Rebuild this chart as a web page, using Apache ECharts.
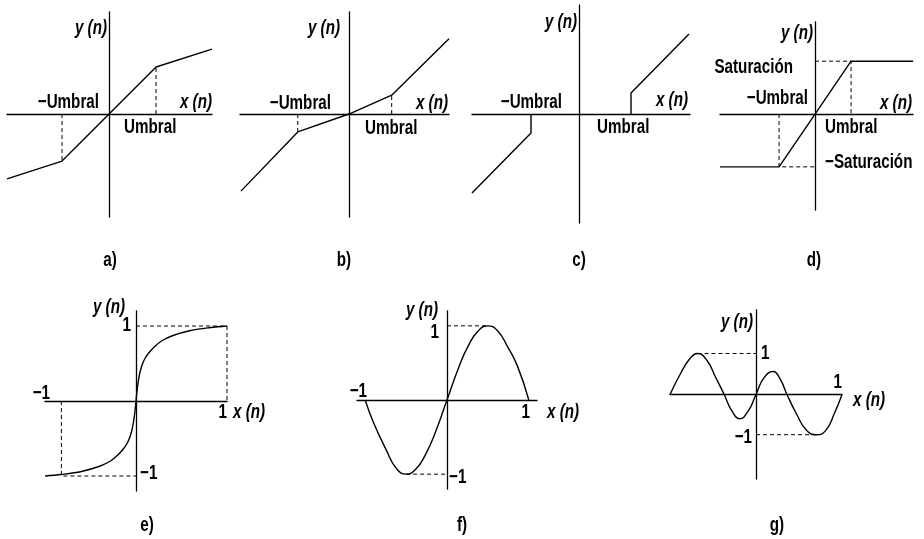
<!DOCTYPE html>
<html>
<head>
<meta charset="utf-8">
<script src="https://cdn.jsdelivr.net/npm/echarts@6/dist/echarts.min.js"></script>
<style>
  html, body { margin: 0; padding: 0; background: #fff; }
  #main { width: 924px; height: 539px; }
</style>
</head>
<body>
<div id="main"></div>
<script>
// a) umbral con pendiente reducida fuera del umbral (x, y en unidades de Umbral)
var curveA = [[-2.17, -1.38], [-1, -1], [0, 0], [1, 1], [2.19, 1.38]];
var dashA1 = [[1, 0], [1, 1]];
var dashA2 = [[-1, 0], [-1, -1]];

// b) pendiente reducida dentro del umbral
var curveB = [[-2.3, -1.64], [-1.09, -0.38], [0, 0], [0.91, 0.4], [2.13, 1.6]];
var dashB1 = [[0.91, 0], [0.91, 0.4]];
var dashB2 = [[-1.09, 0], [-1.09, -0.38]];

// c) zona muerta
var curveC1 = [[1.04, 0], [1.04, 0.42], [2.2, 1.6]];
var curveC2 = [[-0.96, 0], [-0.96, -0.38], [-2.14, -1.58]];

// d) saturacion
var curveD = [[-2.64, -1.47], [-1, -1.47], [0, 0], [1, 1.47], [2.72, 1.47]];
var dashD1 = [[0, 1.47], [1, 1.47], [1, 0]];
var dashD2 = [[-1, 0], [-1, -1.47], [0, -1.47]];

// e) curva tipo sigmoide
var eX = [-1, -0.82, -0.6, -0.4, -0.28, -0.2, -0.14, -0.1, -0.07, -0.045, -0.025, -0.01, 0,
          0.01, 0.025, 0.045, 0.07, 0.1, 0.14, 0.2, 0.28, 0.4, 0.6, 0.82, 1];
var eY = [-1, -0.98, -0.94, -0.87, -0.8, -0.72, -0.64, -0.57, -0.49, -0.39, -0.26, -0.12, 0,
          0.12, 0.26, 0.39, 0.49, 0.57, 0.64, 0.72, 0.8, 0.87, 0.94, 0.98, 1];
var dashE1 = [[0, 1], [1, 1], [1, 0]];
var dashE2 = [[-0.82, 0], [-0.82, -1], [0, -1]];

// f) un periodo
var fX = [-1, -0.9, -0.74, -0.62, -0.5, -0.38, -0.26, -0.15, 0, 0.15, 0.26, 0.38, 0.5, 0.62, 0.74, 0.86, 1];
var fY = [0, -0.3, -0.68, -0.92, -1, -0.93, -0.73, -0.46, 0, 0.46, 0.73, 0.93, 1, 0.93, 0.72, 0.46, 0];
var dashF1 = [[0, 1], [0.5, 1]];
var dashF2 = [[-0.5, -1], [0, -1]];

// g) dos periodos, amplitud variable
var gX = [-1, -0.88, -0.77, -0.68, -0.57, -0.47, -0.37, -0.28, -0.19, -0.09, 0, 0.09, 0.2, 0.28, 0.36, 0.47, 0.59, 0.7, 0.81, 0.91, 1];
var gY = [0, 0.5, 0.87, 1, 0.83, 0.42, 0, -0.4, -0.59, -0.4, 0, 0.4, 0.56, 0.38, 0, -0.47, -0.88, -0.98, -0.88, -0.47, 0];
var dashG1 = [[-0.68, 1], [0, 1]];
var dashG2 = [[0, -0.98], [0.7, -0.98]];

var panelNames = ['a)', 'b)', 'c)', 'd)', 'e)', 'f)', 'g)'];

function zip(xs, ys) {
  return xs.map(function (x, i) { return [x, ys[i]]; });
}

// layout of each small plot: grid in px, axis ranges in data units
var panels = [
  { left: 7,   top: 12,  width: 205, height: 205, x: [-2.17, 2.19], y: [-2.19, 2.17] },
  { left: 240, top: 12,  width: 209, height: 205, x: [-2.32, 2.13], y: [-2.19, 2.17] },
  { left: 472, top: 5,   width: 218, height: 218, x: [-2.14, 2.22], y: [-2.18, 2.18] },
  { left: 720, top: 22,  width: 193, height: 188, x: [-2.64, 2.72], y: [-2.67, 2.56] },
  { left: 45,  top: 311, width: 182, height: 180, x: [-1, 1],       y: [-1.2, 1.2] },
  { left: 357, top: 311, width: 180, height: 178, x: [-1.1, 1.1],   y: [-1.2, 1.2] },
  { left: 670, top: 310, width: 172, height: 169, x: [-1, 1],       y: [-2.06, 2.06] }
];

var solid = { color: '#000', width: 1.4 };
var dashed = { color: '#000', width: 1, type: [4, 3] };

function line(i, data, style, smooth) {
  return {
    type: 'line', xAxisIndex: i, yAxisIndex: i, data: data,
    symbol: 'none', silent: true, lineStyle: style,
    smooth: smooth || false
  };
}

var series = [
  line(0, curveA, solid), line(0, dashA1, dashed), line(0, dashA2, dashed),
  line(1, curveB, solid), line(1, dashB1, dashed), line(1, dashB2, dashed),
  line(2, curveC1, solid), line(2, curveC2, solid),
  line(3, curveD, solid), line(3, dashD1, dashed), line(3, dashD2, dashed),
  line(4, zip(eX, eY), solid, 0.35), line(4, dashE1, dashed), line(4, dashE2, dashed),
  line(5, zip(fX, fY), solid, 0.5), line(5, dashF1, dashed), line(5, dashF2, dashed),
  line(6, zip(gX, gY), solid, 0.5), line(6, dashG1, dashed), line(6, dashG2, dashed)
];

var axisBase = {
  type: 'value',
  axisLine: { onZero: true, lineStyle: { color: '#000', width: 1.3 } },
  axisTick: { show: false },
  axisLabel: { show: false },
  splitLine: { show: false }
};

var FONT = "'Liberation Sans', Arial, sans-serif";

// narrow lettering like the original (condensed horizontally)
function lbl(x, y, text, align, italic) {
  return {
    type: 'text', x: x, y: y, scaleX: 0.76, silent: true,
    style: {
      text: text, fill: '#000',
      font: (italic ? 'italic ' : '') + 'bold 20px ' + FONT,
      align: align || 'center', verticalAlign: 'middle',
      textAlign: align || 'center', textVerticalAlign: 'middle'
    }
  };
}

var texts = [
  // a
  lbl(107, 28, 'y (n)', 'right', true), lbl(212, 102, 'x (n)', 'right', true),
  lbl(99, 102, '\u2212Umbral', 'right'), lbl(124, 127, 'Umbral', 'left'),
  // b
  lbl(340, 28, 'y (n)', 'right', true), lbl(448, 103, 'x (n)', 'right', true),
  lbl(331, 103, '\u2212Umbral', 'right'), lbl(365, 128, 'Umbral', 'left'),
  // c
  lbl(577, 22, 'y (n)', 'right', true), lbl(688, 100, 'x (n)', 'right', true),
  lbl(562, 102, '\u2212Umbral', 'right'), lbl(597, 127, 'Umbral', 'left'),
  // d
  lbl(813, 33, 'y (n)', 'right', true), lbl(912, 103, 'x (n)', 'right', true),
  lbl(793, 67, 'Saturaci\u00f3n', 'right'), lbl(808, 98, '\u2212Umbral', 'right'),
  lbl(825, 127, 'Umbral', 'left'), lbl(825, 162, '\u2212Saturaci\u00f3n', 'left'),
  // e
  lbl(125, 307, 'y (n)', 'right', true), lbl(131, 325, '1', 'right'),
  lbl(50, 393, '\u22121', 'right'), lbl(227, 412, '1', 'right'),
  lbl(233, 412, 'x (n)', 'left', true), lbl(140, 473, '\u22121', 'left'),
  // f
  lbl(438, 310, 'y (n)', 'right', true), lbl(439, 332, '1', 'right'),
  lbl(367, 391, '\u22121', 'right'), lbl(530, 412, '1', 'right'),
  lbl(547, 412, 'x (n)', 'left', true), lbl(449, 477, '\u22121', 'left'),
  // g
  lbl(753, 322, 'y (n)', 'right', true), lbl(761, 353, '1', 'left'),
  lbl(842, 382, '1', 'right'), lbl(853, 400, 'x (n)', 'left', true),
  lbl(752, 437, '\u22121', 'right'),
  // panel names
  lbl(110, 260, panelNames[0]), lbl(344, 260, panelNames[1]),
  lbl(579, 260, panelNames[2]), lbl(814, 260, panelNames[3]),
  lbl(147, 525, panelNames[4]), lbl(462, 525, panelNames[5]),
  lbl(777, 525, panelNames[6])
];

var chart = echarts.init(document.getElementById('main'));
chart.setOption({
  animation: false,
  backgroundColor: '#fff',
  grid: panels.map(function (p) {
    return { left: p.left, top: p.top, width: p.width, height: p.height, containLabel: false };
  }),
  xAxis: panels.map(function (p, i) {
    return Object.assign({}, axisBase, { gridIndex: i, min: p.x[0], max: p.x[1] });
  }),
  yAxis: panels.map(function (p, i) {
    return Object.assign({}, axisBase, { gridIndex: i, min: p.y[0], max: p.y[1] });
  }),
  series: series,
  graphic: texts
});
</script>
</body>
</html>
